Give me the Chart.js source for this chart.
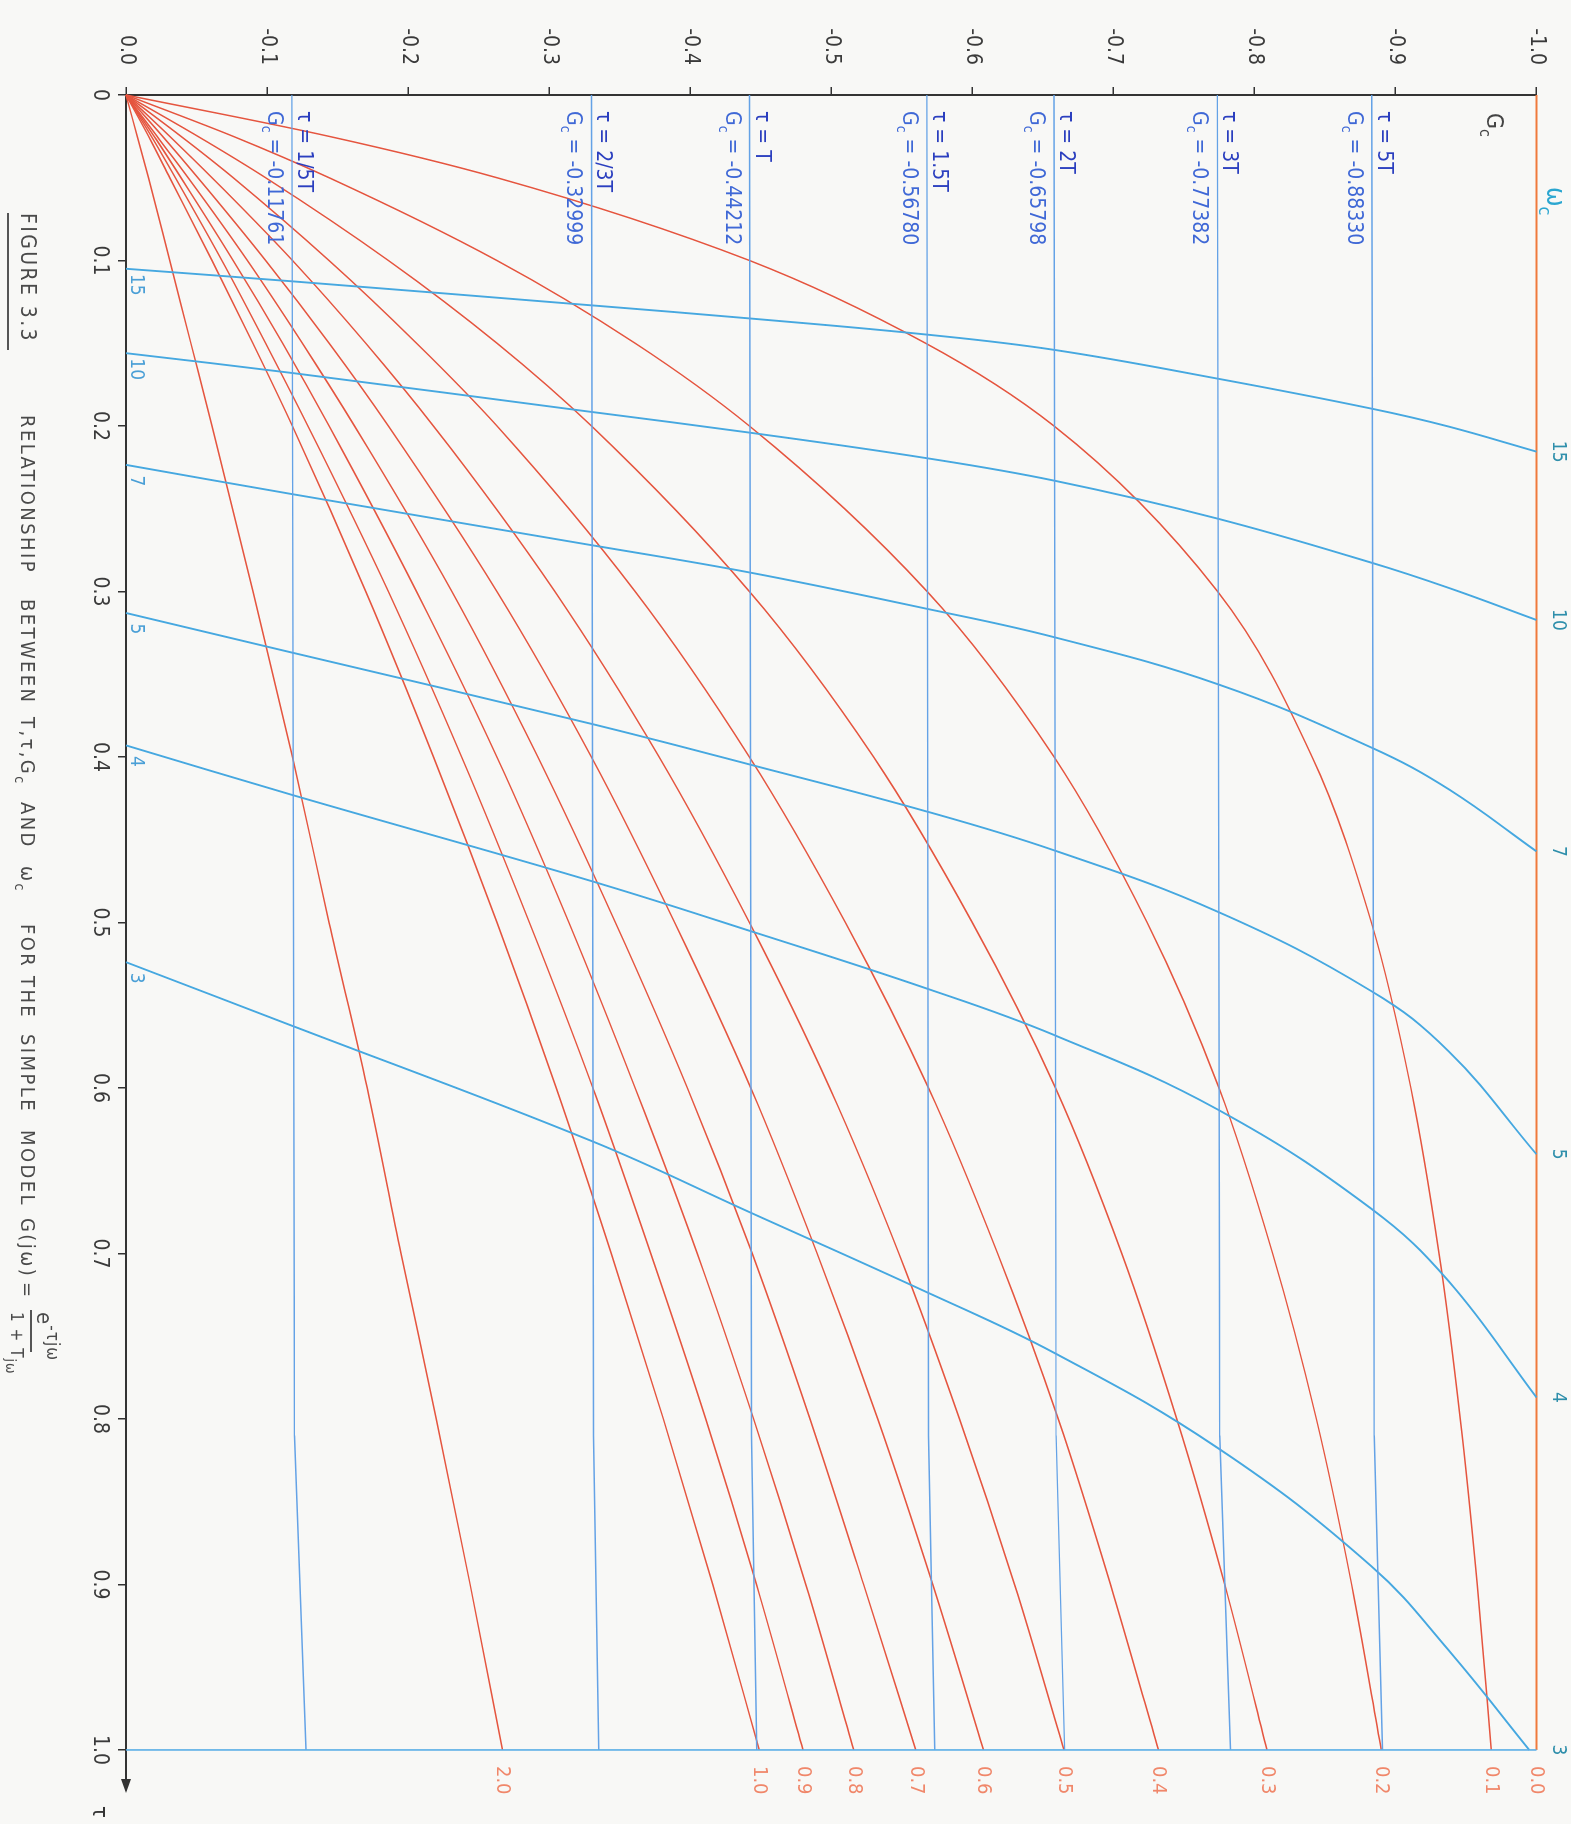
<!DOCTYPE html>
<html><head><meta charset="utf-8">
<script src="https://cdn.jsdelivr.net/npm/chart.js@4"></script>
<style>
html,body{margin:0;padding:0;background:#f8f8f6;overflow:hidden;width:1571px;height:1824px;}
#wrap{position:absolute;left:0;top:0;width:1824px;height:1571px;transform-origin:0 0;transform:translate(1571px,0) rotate(90deg);}
canvas{display:block;}
</style></head><body>
<div id="wrap"><canvas id="c" width="1824" height="1571" style="width:1824px;height:1571px"></canvas></div>
<script>
// ---------------- data ----------------
// tau samples for the constant-T curves
const TAU = [0, 0.025, 0.05, 0.1, 0.15, 0.2, 0.3, 0.4, 0.5, 0.6, 0.7, 0.8, 0.9, 1.0];
const T_LABELS = ['0.0','0.1','0.2','0.3','0.4','0.5','0.6','0.7','0.8','0.9','1.0','2.0'];
const GC_T00 = [-1,-1,-1,-1,-1,-1,-1,-1,-1,-1,-1,-1,-1,-1];
const GC_T01 = [0,-0.144,-0.263,-0.442,-0.567,-0.658,-0.774,-0.841,-0.883,-0.911,-0.931,-0.946,-0.958,-0.968];
const GC_T02 = [0,-0.076,-0.144,-0.263,-0.361,-0.442,-0.568,-0.658,-0.724,-0.775,-0.813,-0.844,-0.869,-0.890];
const GC_T03 = [0,-0.051,-0.099,-0.186,-0.263,-0.330,-0.442,-0.530,-0.600,-0.659,-0.706,-0.745,-0.779,-0.809];
const GC_T04 = [0,-0.039,-0.076,-0.144,-0.206,-0.263,-0.361,-0.442,-0.510,-0.569,-0.618,-0.661,-0.698,-0.732];
const GC_T05 = [0,-0.031,-0.061,-0.118,-0.170,-0.218,-0.304,-0.378,-0.442,-0.499,-0.548,-0.591,-0.630,-0.665];
const GC_T06 = [0,-0.026,-0.051,-0.099,-0.144,-0.186,-0.263,-0.330,-0.389,-0.443,-0.490,-0.533,-0.572,-0.608];
const GC_T07 = [0,-0.022,-0.044,-0.086,-0.125,-0.162,-0.231,-0.292,-0.347,-0.398,-0.444,-0.485,-0.523,-0.560];
const GC_T08 = [0,-0.020,-0.039,-0.076,-0.111,-0.144,-0.206,-0.263,-0.314,-0.361,-0.405,-0.445,-0.482,-0.516];
const GC_T09 = [0,-0.018,-0.035,-0.068,-0.099,-0.129,-0.186,-0.238,-0.286,-0.331,-0.372,-0.411,-0.447,-0.480];
const GC_T10 = [0,-0.016,-0.031,-0.061,-0.090,-0.118,-0.170,-0.218,-0.263,-0.305,-0.344,-0.381,-0.416,-0.449];
const GC_T20 = [0,-0.008,-0.016,-0.031,-0.046,-0.061,-0.090,-0.118,-0.144,-0.171,-0.195,-0.220,-0.244,-0.267];

// constant tau/T lines (constant Gc)
const RATIO_TAU = [0, 0.81, 1.0];
const RATIO_LABELS = ['1/5T','2/3T','T','1.5T','2T','3T','5T'];
const RATIO_GC_TEXT = ['-0.11761','-0.32999','-0.44212','-0.56780','-0.65798','-0.77382','-0.88330'];
const R_1_5 = [-0.1176,-0.1195,-0.1276];
const R_2_3 = [-0.3300,-0.3315,-0.3352];
const R_1   = [-0.4421,-0.4435,-0.4472];
const R_1_5T= [-0.5678,-0.5690,-0.5734];
const R_2   = [-0.6580,-0.6595,-0.6655];
const R_3   = [-0.7738,-0.7755,-0.7831];
const R_5   = [-0.8833,-0.8850,-0.8909];

// constant omega_c curves
const WC_LABELS = ['15','10','7','5','4','3'];
const WC_GC  = [0,-0.118,-0.330,-0.442,-0.568,-0.658,-0.774,-0.883,-0.938,-1.0];
const WC_GC3 = [0,-0.118,-0.330,-0.442,-0.568,-0.658,-0.774,-0.883,-0.938,-0.995];
const WC15_TAU = [0.1050,0.1126,0.1271,0.1350,0.1448,0.1540,0.1714,0.1895,0.2004,0.2155];
const WC10_TAU = [0.1560,0.1680,0.1915,0.2040,0.2195,0.2330,0.2560,0.2826,0.2979,0.3172];
const WC7_TAU  = [0.2235,0.2412,0.2720,0.2885,0.3105,0.3276,0.3560,0.3943,0.4196,0.4570];
const WC5_TAU  = [0.3130,0.3370,0.3800,0.4045,0.4330,0.4564,0.4935,0.5415,0.5780,0.6400];
const WC4_TAU  = [0.3930,0.4230,0.4750,0.5050,0.5400,0.5680,0.6130,0.6730,0.7170,0.7870];
const WC3_TAU  = [0.5240,0.5625,0.6320,0.6750,0.7235,0.7600,0.8175,0.8890,0.9400,1.0000];

// frame line at tau = 1
const FRAME_TAU = [1.0, 1.0];
const FRAME_GC  = [0, -1.0];

// axis ticks
const X_TICKS = [0,0.1,0.2,0.3,0.4,0.5,0.6,0.7,0.8,0.9,1.0];
const X_TICK_LABELS = ['0','0.1','0.2','0.3','0.4','0.5','0.6','0.7','0.8','0.9','1.0'];
const Y_TICKS = [0,-0.1,-0.2,-0.3,-0.4,-0.5,-0.6,-0.7,-0.8,-0.9,-1.0];
const Y_TICK_LABELS = ['0.0','-0.1','-0.2','-0.3','-0.4','-0.5','-0.6','-0.7','-0.8','-0.9','-1.0'];

// ---------------- build ----------------
const FONT = "'DejaVu Sans Condensed','DejaVu Sans',sans-serif";
const zip = (xs, ys) => xs.map((x, i) => ({x: x, y: ys[i]}));

const RED = '#e5553f';
const ORANGE = '#ef7a3c';
const RATIO_BLUE = '#64a2e6';
const WC_BLUE = '#46a8e0';

const tSeries = [GC_T00,GC_T01,GC_T02,GC_T03,GC_T04,GC_T05,GC_T06,GC_T07,GC_T08,GC_T09,GC_T10,GC_T20];
const ratioSeries = [R_1_5,R_2_3,R_1,R_1_5T,R_2,R_3,R_5];
const wcSeries = [[WC15_TAU,WC_GC],[WC10_TAU,WC_GC],[WC7_TAU,WC_GC],[WC5_TAU,WC_GC],[WC4_TAU,WC_GC],[WC3_TAU,WC_GC3]];

const datasets = [];
datasets.push({data: zip(FRAME_TAU, FRAME_GC), borderColor: '#5aaee6', borderWidth: 1.6, tension: 0});
ratioSeries.forEach(s => datasets.push({data: zip(RATIO_TAU, s), borderColor: RATIO_BLUE, borderWidth: 1.4, tension: 0}));
wcSeries.forEach(s => datasets.push({data: zip(s[0], s[1]), borderColor: WC_BLUE, borderWidth: 1.9, tension: 0.4}));
tSeries.forEach((s, i) => datasets.push({data: zip(TAU, s), borderColor: i === 0 ? ORANGE : RED, borderWidth: i === 0 ? 2 : 1.5, cubicInterpolationMode: 'monotone'}));
datasets.forEach(d => { d.showLine = true; d.pointRadius = 0; d.fill = false; d.clip = 4; });

function rich(ctx, parts, x, y, size, color) {
  let cx = x;
  for (const p of parts) {
    const small = p.sub || p.sup;
    const fs = small ? Math.round(size * (p.scale || 0.68)) : size;
    ctx.font = fs + 'px ' + FONT;
    ctx.fillStyle = p.color || color;
    const dy = p.sub ? size * 0.3 : (p.sup ? -size * 0.45 : 0);
    ctx.fillText(p.t, cx, y + dy);
    cx += ctx.measureText(p.t).width;
  }
  return cx;
}

const labelsPlugin = {
  id: 'labels',
  afterDraw(chart) {
    const ctx = chart.ctx;
    const xs = chart.scales.x, ys = chart.scales.y;
    ctx.save();
    ctx.textBaseline = 'alphabetic';
    ctx.textAlign = 'left';
    // ratio labels
    const x0 = xs.getPixelForValue(0) + 16;
    ratioSeries.forEach((s, i) => {
      const y = ys.getPixelForValue(s[0]);
      rich(ctx, [{t: '\u03C4 = ' + RATIO_LABELS[i]}], x0, y - 6, 21, '#2b3fbf');
      rich(ctx, [{t: 'G'}, {t: 'c', sub: true}, {t: ' = ' + RATIO_GC_TEXT[i]}], x0, y + 24, 21, '#3f68d6');
    });
    // T labels at the tau = 1 end
    ctx.textBaseline = 'middle';
    ctx.font = '20px ' + FONT;
    ctx.fillStyle = '#f0876a';
    const xEnd = xs.getPixelForValue(1.0);
    tSeries.forEach((s, i) => {
      const y = ys.getPixelForValue(s[s.length - 1]);
      ctx.fillText(T_LABELS[i], xEnd + 16, y);
    });
    // omega_c labels
    ctx.textAlign = 'center';
    ctx.font = '19px ' + FONT;
    wcSeries.forEach((s, i) => {
      const t = s[0];
      ctx.fillStyle = '#2f8fab';
      ctx.textBaseline = 'middle';
      ctx.fillText(WC_LABELS[i], xs.getPixelForValue(t[t.length - 1]), 13);
      ctx.fillStyle = '#4a9fd6';
      ctx.textBaseline = 'alphabetic';
      ctx.fillText(WC_LABELS[i], xs.getPixelForValue(t[0]) + 16, 1440);
    });
    ctx.textAlign = 'left';
    ctx.textBaseline = 'alphabetic';
    // axis titles
    rich(ctx, [{t: 'G'}, {t: 'c', sub: true}], 113, 84, 23, '#444');
    rich(ctx, [{t: '\u03C9'}, {t: 'c', sub: true}], 187, 24, 26, '#2aa6d0');
    rich(ctx, [{t: '\u03C4'}], 1806, 1478, 22, '#333');
    // arrow head
    const ay = ys.getPixelForValue(0);
    const ax = chart.chartArea.right;
    ctx.fillStyle = '#333';
    ctx.beginPath();
    ctx.moveTo(ax + 3, ay);
    ctx.lineTo(ax - 11, ay - 5);
    ctx.lineTo(ax - 11, ay + 5);
    ctx.closePath();
    ctx.fill();
    // caption
    const cy = 1550;
    ctx.letterSpacing = '2.4px';
    const C = '#4a4a4a';
    rich(ctx, [{t: 'FIGURE 3.3'}], 213, cy, 21, C);
    ctx.strokeStyle = '#555';
    ctx.lineWidth = 2;
    ctx.beginPath(); ctx.moveTo(213, 1563); ctx.lineTo(350, 1563); ctx.stroke();
    rich(ctx, [{t: 'RELATIONSHIP'}], 415, cy, 20, C);
    rich(ctx, [{t: 'BETWEEN'}], 599, cy, 20, C);
    rich(ctx, [{t: 'T,\u03C4,G'}, {t: 'c', sub: true}], 717, cy, 20, C);
    rich(ctx, [{t: 'AND'}], 802, cy, 20, C);
    rich(ctx, [{t: '\u03C9'}, {t: 'c', sub: true}], 866, cy, 20, C);
    rich(ctx, [{t: 'FOR'}], 924, cy, 20, C);
    rich(ctx, [{t: 'THE'}], 976, cy, 20, C);
    rich(ctx, [{t: 'SIMPLE'}], 1034, cy, 20, C);
    rich(ctx, [{t: 'MODEL'}], 1130, cy, 20, C);
    rich(ctx, [{t: 'G(j\u03C9)'}], 1218, cy, 20, C);
    rich(ctx, [{t: '='}], 1282, cy, 20, C);
    ctx.letterSpacing = '1px';
    rich(ctx, [{t: 'e'}, {t: '-\u03C4j\u03C9', sup: true, scale: 0.75}], 1312, 1534, 22, C);
    ctx.beginPath(); ctx.moveTo(1310, 1540); ctx.lineTo(1352, 1540); ctx.stroke();
    rich(ctx, [{t: '1 + T'}, {t: 'j\u03C9', sub: true, scale: 0.8}], 1312, 1560, 17, C);
    ctx.restore();
  }
};

new Chart(document.getElementById('c'), {
  type: 'scatter',
  data: {datasets: datasets},
  options: {
    responsive: false,
    animation: false,
    devicePixelRatio: 1,
    layout: {padding: {left: 0, top: 34, right: 34, bottom: 0}},
    plugins: {legend: {display: false}, tooltip: {enabled: false}},
    scales: {
      x: {
        type: 'linear', min: 0, max: 1.0242,
        afterBuildTicks: s => { s.ticks = X_TICKS.map(v => ({value: v})); },
        afterFit: s => { s.height = 126; },
        grid: {drawOnChartArea: false, drawTicks: true, tickLength: 8, color: '#333', tickColor: '#333', lineWidth: 1.5},
        border: {display: true, color: '#333', width: 2},
        ticks: {
          padding: 6, color: '#3a3a3a', font: {size: 21, family: FONT}, maxRotation: 0, autoSkip: false,
          callback: (v, i) => X_TICK_LABELS[i]
        }
      },
      y: {
        type: 'linear', min: -1, max: 0, reverse: true,
        afterBuildTicks: s => { s.ticks = Y_TICKS.map(v => ({value: v})); },
        afterFit: s => { s.width = 95; },
        grid: {drawOnChartArea: false, drawTicks: true, tickLength: 8, color: '#333', tickColor: '#333', lineWidth: 1.5},
        border: {display: true, color: '#333', width: 2},
        ticks: {
          padding: 22, color: '#3a3a3a', font: {size: 21, family: FONT}, autoSkip: false,
          callback: (v, i) => Y_TICK_LABELS[i]
        }
      }
    }
  },
  plugins: [labelsPlugin]
});
</script></body></html>
